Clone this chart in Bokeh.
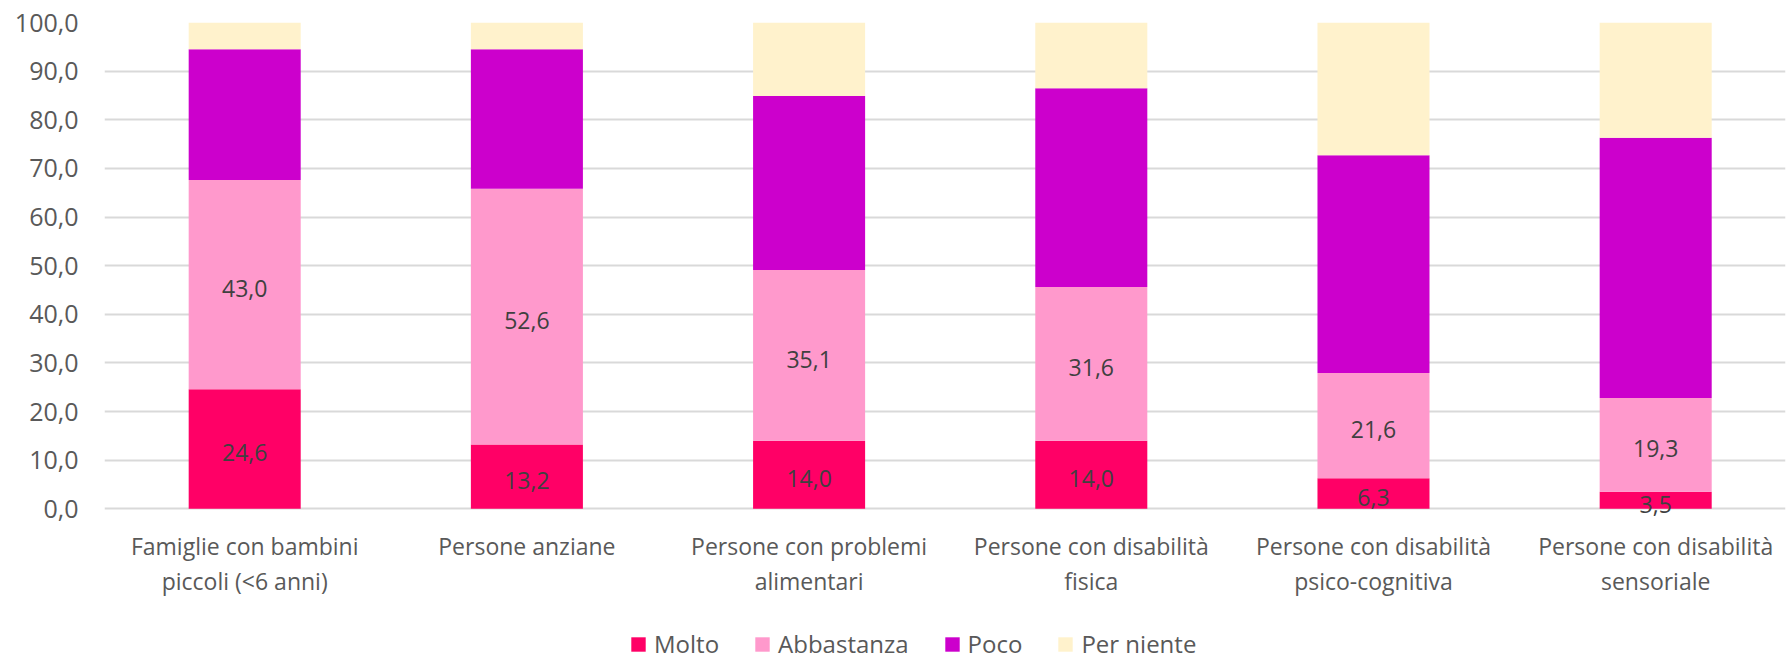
from bokeh.plotting import figure
from bokeh.layouts import column
from bokeh.models import ColumnDataSource, Range1d, LabelSet, Legend, LegendItem, FixedTicker
from bokeh.core.properties import value
from bokeh.embed import file_html
from bokeh.resources import INLINE

categories = [
    "Famiglie con bambini\npiccoli (<6 anni)",
    "Persone anziane",
    "Persone con problemi\nalimentari",
    "Persone con disabilità\nfisica",
    "Persone con disabilità\npsico-cognitiva",
    "Persone con disabilità\nsensoriale",
]
molto = [24.6, 13.2, 14.0, 14.0, 6.3, 3.5]
abbastanza = [43.0, 52.6, 35.1, 31.6, 21.6, 19.3]
poco = [26.9, 28.7, 35.8, 40.9, 44.8, 53.5]
per_niente = [5.5, 5.5, 15.1, 13.5, 27.3, 23.7]
series_names = ["Molto", "Abbastanza", "Poco", "Per niente"]
colors = ["#FF0066", "#FF99CC", "#CC00CC", "#FFF2CC"]
y_ticks = [0, 10, 20, 30, 40, 50, 60, 70, 80, 90, 100]
y_tick_labels = ["0,0", "10,0", "20,0", "30,0", "40,0", "50,0", "60,0", "70,0", "80,0", "90,0", "100,0"]

FONT = "Open Sans"
TXT = "#595959"
FS = "23px"

xs = list(range(len(categories)))
source = ColumnDataSource(dict(x=xs, Molto=molto, Abbastanza=abbastanza, Poco=poco, **{"Per niente": per_niente}))

# y range starts slightly below 0 so that small data labels can overflow the bar base, as in the original
p = figure(width=1788, height=604, output_backend="svg", toolbar_location=None,
           x_range=Range1d(-0.4968, 5.460), y_range=Range1d(-2, 100),
           min_border_left=104, min_border_right=3, min_border_top=22, min_border_bottom=86)
p.outline_line_color = None
p.background_fill_color = "white"
p.border_fill_color = "white"

renderers = p.vbar_stack(series_names, x="x", width=0.397, color=colors, line_color=None, source=source)

# labels for Molto and Abbastanza
mid_m = [v / 2 for v in molto]
mid_a = [m + a / 2 for m, a in zip(molto, abbastanza)]
lab_src = ColumnDataSource(dict(
    x=xs + xs,
    y=mid_m + mid_a,
    t=[f"{v:.1f}".replace(".", ",") for v in molto + abbastanza],
))
labels = LabelSet(x="x", y="y", text="t", source=lab_src, text_align="center", text_baseline="middle",
                  y_offset=-4,
                  text_font=value(FONT), text_font_size=value(FS), text_color="#404040")
p.add_layout(labels)

# axes
p.xgrid.grid_line_color = None
p.ygrid.grid_line_color = "#d9d9d9"
p.ygrid.grid_line_width = 2
p.ygrid.ticker = FixedTicker(ticks=y_ticks)

p.yaxis.ticker = FixedTicker(ticks=y_ticks)
p.yaxis.major_label_overrides = {t: l for t, l in zip(y_ticks, y_tick_labels)}
p.yaxis.axis_line_color = None
p.yaxis.major_tick_line_color = None
p.yaxis.minor_tick_line_color = None
p.yaxis.major_tick_out = 0
p.yaxis.major_tick_in = 0
p.yaxis.minor_tick_out = 0
p.yaxis.major_label_standoff = 26
p.yaxis.major_label_text_font = FONT
p.yaxis.major_label_text_font_size = "25px"
p.yaxis.major_label_text_color = TXT

p.xaxis.ticker = FixedTicker(ticks=xs)
p.xaxis.major_label_overrides = {i: c for i, c in zip(xs, categories)}
p.xaxis.axis_line_color = None
p.xaxis.major_tick_line_color = None
p.xaxis.minor_tick_line_color = None
p.xaxis.major_tick_out = 0
p.xaxis.major_tick_in = 0
p.xaxis.minor_tick_out = 0
p.xaxis.major_label_standoff = 11
p.xaxis.major_label_text_font = FONT
p.xaxis.major_label_text_font_size = FS
p.xaxis.major_label_text_color = TXT
p.xaxis.major_label_text_line_height = 1.1

# legend in a separate strip below the chart; the series are drawn there
# out of its visible range, only their legend entries show
lf = figure(width=1788, height=56, output_backend="svg", toolbar_location=None,
            x_axis_location=None, y_axis_location=None,
            x_range=Range1d(-0.5, 5.5), y_range=Range1d(1000, 1001),
            min_border_left=104, min_border_right=3, min_border_top=0, min_border_bottom=0)
lf.outline_line_color = None
lf.xgrid.grid_line_color = None
lf.ygrid.grid_line_color = None
legend_renderers = lf.vbar_stack(series_names, x="x", width=0.4, color=colors, line_color=None, source=source)

legend = Legend(items=[LegendItem(label=n, renderers=[r]) for n, r in zip(series_names, legend_renderers)],
                orientation="horizontal", location=(525, 0))
legend.padding = 0
legend.margin = 0
legend.spacing = 34
legend.label_standoff = 7
legend.glyph_width = 18
legend.glyph_height = 18
legend.border_line_color = None
legend.background_fill_alpha = 0
legend.label_text_font = FONT
legend.label_text_font_size = "24px"
legend.label_text_color = TXT
lf.add_layout(legend)

layout = column(p, lf, spacing=0)
open("out.html", "w").write(file_html(layout, INLINE))
